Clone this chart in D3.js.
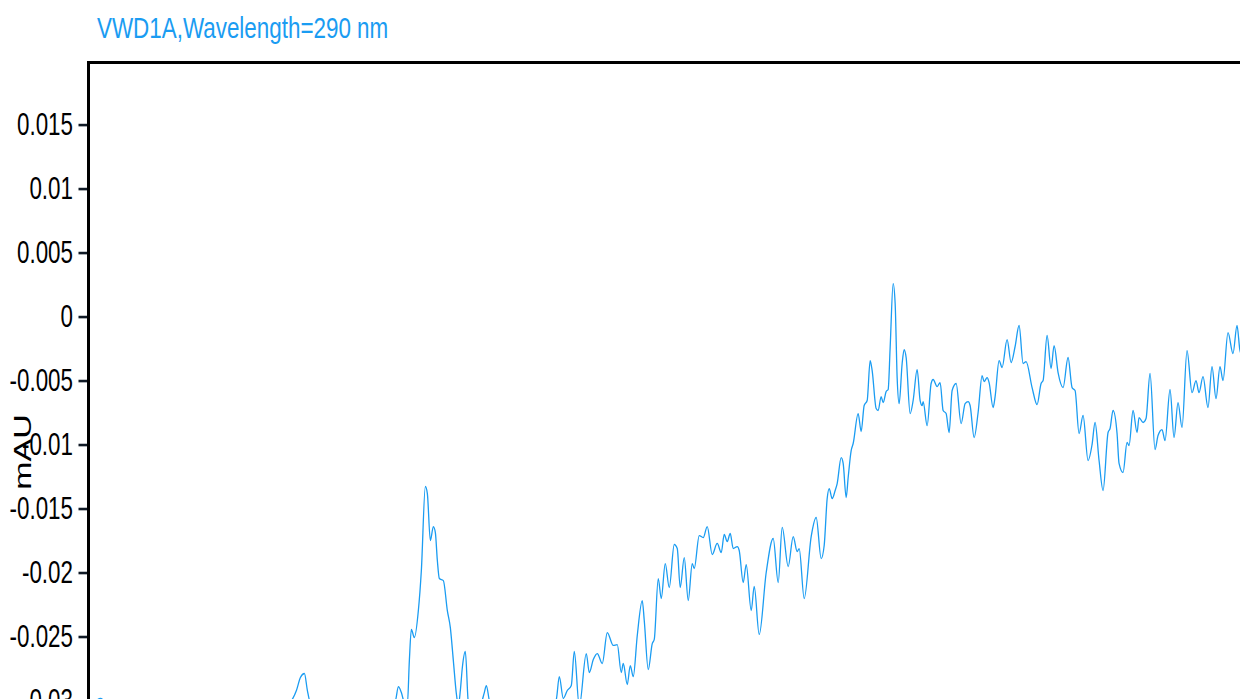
<!DOCTYPE html>
<html>
<head>
<meta charset="utf-8">
<script src="https://cdn.jsdelivr.net/npm/d3@7/dist/d3.min.js"></script>
<style>
  html, body { margin: 0; padding: 0; background: #ffffff; overflow: hidden; }
  svg { display: block; }
</style>
</head>
<body>
<svg id="chart" width="1240" height="699"></svg>
<script>
// Detector trace: VWD1A at 290 nm
const title = "VWD1A,Wavelength=290 nm";
const yLabel = "mAU";

// retention time (min)
const time = [
  0.00, 0.06, 0.12, 0.18, 0.32, 0.52, 0.72, 0.92, 1.12, 1.32, 1.52, 1.72, 1.92, 2.02,
  2.08, 2.12, 2.16, 2.19, 2.22, 2.42, 2.62, 2.82, 2.97, 3.07, 3.10, 3.13, 3.16, 3.19,
  3.21, 3.23, 3.26, 3.30, 3.33, 3.37, 3.39, 3.42, 3.45, 3.47, 3.49, 3.51, 3.55, 3.59,
  3.62, 3.65, 3.68, 3.70, 3.72, 3.74, 3.77, 3.80, 3.84, 3.92, 3.96, 3.98, 4.01, 4.07,
  4.22, 4.37, 4.52, 4.62, 4.68, 4.71, 4.75, 4.79, 4.83, 4.86, 4.91, 4.98, 5.01, 5.05,
  5.09, 5.14, 5.19, 5.25, 5.29, 5.33, 5.35, 5.39, 5.42, 5.45, 5.49, 5.54, 5.56, 5.60,
  5.64, 5.66, 5.70, 5.73, 5.77, 5.81, 5.86, 5.89, 5.92, 5.96, 6.00, 6.04, 6.06, 6.11,
  6.15, 6.19, 6.24, 6.29, 6.33, 6.36, 6.39, 6.42, 6.45, 6.49, 6.51, 6.55, 6.58, 6.63,
  6.66, 6.71, 6.78, 6.85, 6.90, 6.94, 7.00, 7.05, 7.09, 7.11, 7.16, 7.23, 7.28, 7.33,
  7.36, 7.39, 7.41, 7.44, 7.47, 7.49, 7.53, 7.55, 7.58, 7.60, 7.63, 7.65, 7.70, 7.73,
  7.76, 7.79, 7.82, 7.84, 7.88, 7.90, 7.93, 7.95, 7.98, 8.00, 8.02, 8.05, 8.07, 8.09,
  8.11, 8.14, 8.16, 8.18, 8.22, 8.25, 8.29, 8.32, 8.34, 8.35, 8.39, 8.43, 8.45, 8.49,
  8.52, 8.55, 8.58, 8.61, 8.64, 8.68, 8.73, 8.77, 8.80, 8.82, 8.86, 8.90, 8.94, 8.96,
  8.99, 9.01, 9.05, 9.07, 9.11, 9.14, 9.19, 9.23, 9.27, 9.31, 9.35, 9.38, 9.44, 9.49,
  9.53, 9.55, 9.59, 9.63, 9.66, 9.70, 9.75, 9.80, 9.84, 9.87, 9.91, 9.95, 10.00, 10.04,
  10.07, 10.11, 10.15, 10.20, 10.22, 10.25, 10.29, 10.31, 10.35, 10.39, 10.41, 10.45, 10.49, 10.51,
  10.55, 10.58, 10.62, 10.67, 10.70, 10.74, 10.77, 10.82, 10.86, 10.90, 10.94, 10.99, 11.04, 11.08,
  11.11, 11.15, 11.20, 11.24, 11.28, 11.32, 11.35, 11.40, 11.45, 11.49, 11.52, 11.57, 11.64
];

// absorbance (mAU)
const absorbance = [
  -0.03031, -0.03008, -0.02984, -0.03016, -0.03039, -0.03023, -0.03047, -0.03031, -0.03055, -0.03031, -0.03047, -0.03023, -0.03039, -0.03008,
  -0.02922, -0.02820, -0.02789, -0.02922, -0.03016, -0.03047, -0.03023, -0.03055, -0.03031, -0.03000, -0.02891, -0.02938, -0.03016, -0.03031,
  -0.02688, -0.02445, -0.02508, -0.02297, -0.01984, -0.01328, -0.01383, -0.01750, -0.01641, -0.01688, -0.01906, -0.02047, -0.02063, -0.02297,
  -0.02430, -0.02688, -0.02945, -0.03039, -0.02922, -0.02742, -0.02617, -0.03016, -0.03078, -0.03039, -0.02938, -0.02883, -0.03000, -0.03094,
  -0.03117, -0.03094, -0.03109, -0.03063, -0.02992, -0.02813, -0.02984, -0.02922, -0.02883, -0.02617, -0.03047, -0.02633, -0.02781, -0.02680,
  -0.02633, -0.02711, -0.02469, -0.02570, -0.02563, -0.02781, -0.02711, -0.02875, -0.02727, -0.02813, -0.02492, -0.02219, -0.02375, -0.02758,
  -0.02555, -0.02523, -0.02047, -0.02203, -0.01930, -0.02117, -0.01781, -0.01813, -0.02117, -0.01883, -0.02219, -0.01930, -0.01969, -0.01711,
  -0.01727, -0.01641, -0.01859, -0.01773, -0.01844, -0.01703, -0.01758, -0.01695, -0.01813, -0.01797, -0.01828, -0.02078, -0.01938, -0.02297,
  -0.02109, -0.02484, -0.02000, -0.01734, -0.02078, -0.01648, -0.01953, -0.01719, -0.01836, -0.01813, -0.02203, -0.01719, -0.01570, -0.01891,
  -0.01789, -0.01422, -0.01344, -0.01422, -0.01359, -0.01305, -0.01102, -0.01148, -0.01414, -0.01258, -0.01047, -0.00992, -0.00758, -0.00898,
  -0.00695, -0.00656, -0.00344, -0.00422, -0.00719, -0.00734, -0.00625, -0.00672, -0.00586, -0.00570, -0.00242, 0.00258, 0.00102, -0.00477,
  -0.00680, -0.00367, -0.00258, -0.00320, -0.00758, -0.00656, -0.00414, -0.00656, -0.00695, -0.00664, -0.00852, -0.00523, -0.00492, -0.00547,
  -0.00516, -0.00734, -0.00758, -0.00906, -0.00578, -0.00523, -0.00836, -0.00680, -0.00664, -0.00695, -0.00945, -0.00750, -0.00461, -0.00508,
  -0.00477, -0.00516, -0.00711, -0.00625, -0.00344, -0.00398, -0.00180, -0.00359, -0.00234, -0.00070, -0.00367, -0.00352, -0.00555, -0.00688,
  -0.00523, -0.00500, -0.00148, -0.00406, -0.00227, -0.00438, -0.00555, -0.00320, -0.00555, -0.00578, -0.00914, -0.00773, -0.01125, -0.01000,
  -0.00828, -0.01125, -0.01359, -0.00906, -0.00875, -0.00734, -0.00914, -0.01148, -0.01219, -0.00984, -0.01008, -0.00734, -0.00906, -0.00789,
  -0.00828, -0.00797, -0.00445, -0.01039, -0.00930, -0.00883, -0.00969, -0.00570, -0.00945, -0.00672, -0.00867, -0.00266, -0.00594, -0.00500,
  -0.00594, -0.00469, -0.00711, -0.00391, -0.00641, -0.00391, -0.00500, -0.00125, -0.00289, -0.00070, -0.00266, -0.00340, -0.00230
];

// y-axis ticks and their labels
const yTicks = [0.015, 0.01, 0.005, 0, -0.005, -0.01, -0.015, -0.02, -0.025, -0.03];
const yTickLabels = ["0.015", "0.01", "0.005", "0", "-0.005", "-0.01", "-0.015", "-0.02", "-0.025", "-0.03"];

const data = time.map((t, i) => ({ t, v: absorbance[i] }));

const svg = d3.select("#chart");
const W = 1240, H = 699;
const plotLeft = 88.5, plotTop = 62.5;
const squeeze = 0.7;           // narrow type used throughout the chart
const lineColor = "#1a9cf2";
const font = "'Liberation Sans', Arial, sans-serif";

svg.append("rect").attr("width", W).attr("height", H).attr("fill", "#ffffff");

const x = d3.scaleLinear().domain([0, 11.52]).range([plotLeft, 1240]);
const y = d3.scaleLinear().domain([-0.035, 0.01985]).range([plotTop + 702, plotTop]);

// plot area clip
svg.append("defs").append("clipPath").attr("id", "plotClip")
  .append("rect").attr("x", plotLeft).attr("y", plotTop)
  .attr("width", W + 100 - plotLeft).attr("height", 800);

// trace
const line = d3.line()
  .x(d => x(d.t))
  .y(d => y(d.v))
  .curve(d3.curveMonotoneX);

svg.append("path")
  .datum(data)
  .attr("clip-path", "url(#plotClip)")
  .attr("d", line)
  .attr("fill", "none")
  .attr("stroke", lineColor)
  .attr("stroke-width", 1.3)
  .attr("stroke-linejoin", "round");

// y axis
const axis = d3.axisLeft(y)
  .tickValues(yTicks)
  .tickFormat((d, i) => yTickLabels[i])
  .tickSize(10)
  .tickSizeOuter(0);

const gAxis = svg.append("g")
  .attr("transform", `translate(${plotLeft},0)`)
  .call(axis);
gAxis.select(".domain").remove();
gAxis.selectAll(".tick line")
  .attr("stroke", "#101a26")
  .attr("stroke-width", 2.6);
gAxis.selectAll(".tick text")
  .attr("font-family", font)
  .attr("font-size", 32)
  .attr("fill", "#000")
  .attr("x", -15.5 / squeeze)
  .attr("dy", "0.3em")
  .attr("transform", `scale(${squeeze},1)`);

// frame: top and left edges
svg.append("line")
  .attr("x1", plotLeft - 1.5).attr("x2", W + 10)
  .attr("y1", plotTop).attr("y2", plotTop)
  .attr("stroke", "#000").attr("stroke-width", 3);
svg.append("line")
  .attr("x1", plotLeft).attr("x2", plotLeft)
  .attr("y1", plotTop - 1.5).attr("y2", H + 10)
  .attr("stroke", "#000").attr("stroke-width", 3);

// title
svg.append("text")
  .attr("transform", `translate(97,38) scale(0.76,1)`)
  .attr("font-family", font)
  .attr("font-size", 29.5)
  .attr("fill", lineColor)
  .text(title);

// y-axis title
svg.append("text")
  .attr("transform", `translate(31,452) scale(${squeeze},1) rotate(-90)`)
  .attr("text-anchor", "middle")
  .attr("font-family", font)
  .attr("font-size", 34)
  .attr("fill", "#000")
  .text(yLabel);
</script>
</body>
</html>
